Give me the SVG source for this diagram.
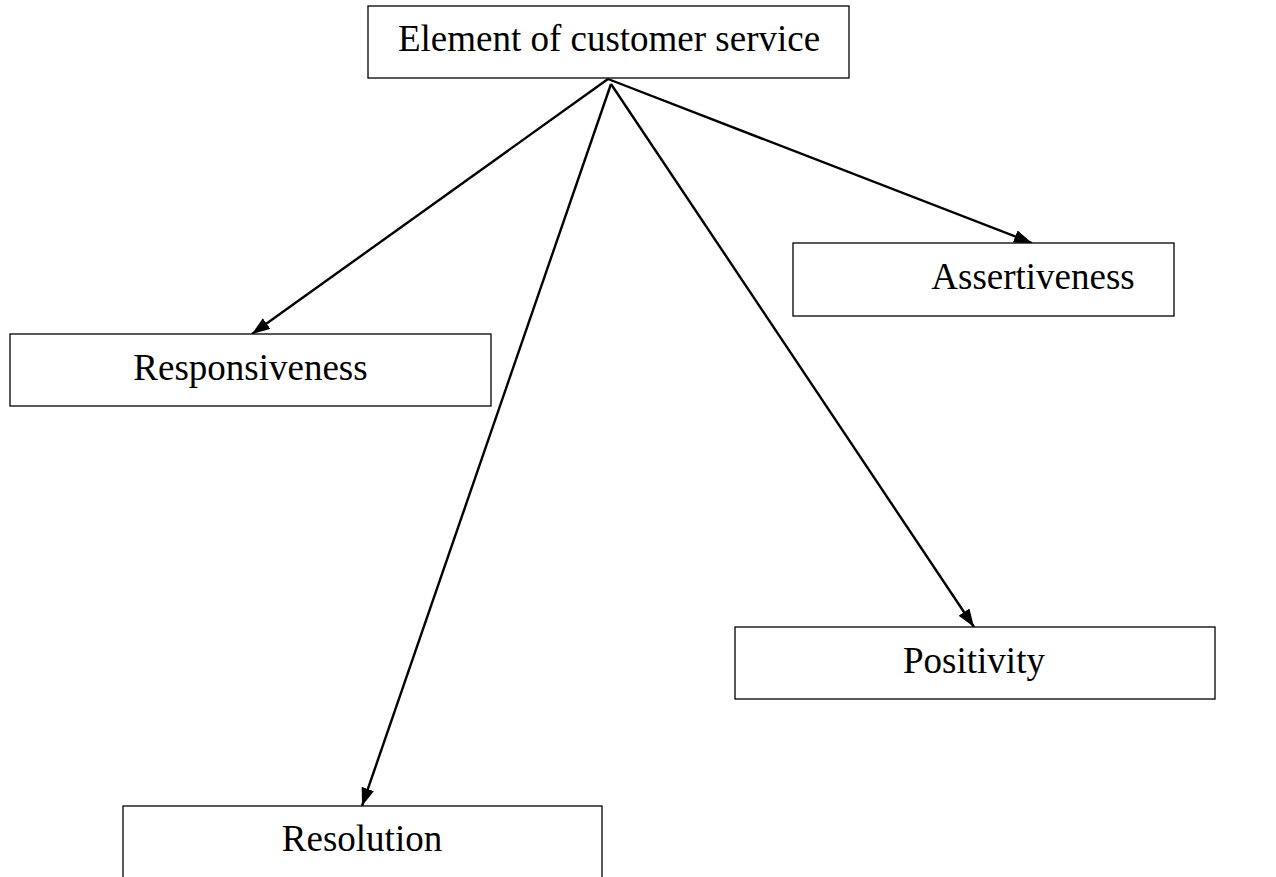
<svg xmlns="http://www.w3.org/2000/svg" width="1276" height="877" viewBox="0 0 1276 877">
  <style>
    .box { fill: #ffffff; stroke: #000000; stroke-width: 1.3; }
    .label { font-family: "Liberation Serif", "Times New Roman", serif; font-size: 37px; fill: #000000; text-anchor: middle; }
    .edge { stroke: #000000; stroke-width: 2.4; fill: none; marker-end: url(#arrow); }
  </style>
  <defs>
    <marker id="arrow" markerWidth="18" markerHeight="13" refX="18" refY="6.5" orient="auto" markerUnits="userSpaceOnUse" viewBox="0 0 18 13">
      <path d="M0,0 L18,6.5 L0,13 Z" fill="#000000"/>
    </marker>
  </defs>
  <rect width="1276" height="877" fill="#ffffff"/>

  <g id="connectors">
    <line class="edge" x1="608" y1="79" x2="252" y2="334"/>
    <line class="edge" x1="611" y1="84" x2="362" y2="806"/>
    <line class="edge" x1="611" y1="84" x2="974" y2="627"/>
    <line class="edge" x1="608" y1="79" x2="1032" y2="243"/>
  </g>

  <g id="node-root">
    <rect class="box" x="368" y="6" width="481" height="72"/>
    <text class="label" x="609" y="51">Element of customer service</text>
  </g>
  <g id="node-responsiveness">
    <rect class="box" x="10" y="334" width="481" height="72"/>
    <text class="label" x="250.5" y="380">Responsiveness</text>
  </g>
  <g id="node-assertiveness">
    <rect class="box" x="793" y="243" width="381" height="73"/>
    <text class="label" x="1033" y="289">Assertiveness</text>
  </g>
  <g id="node-positivity">
    <rect class="box" x="735" y="627" width="480" height="72"/>
    <text class="label" x="974" y="673">Positivity</text>
  </g>
  <g id="node-resolution">
    <rect class="box" x="123" y="806" width="479" height="90"/>
    <text class="label" x="362" y="851">Resolution</text>
  </g>
</svg>
